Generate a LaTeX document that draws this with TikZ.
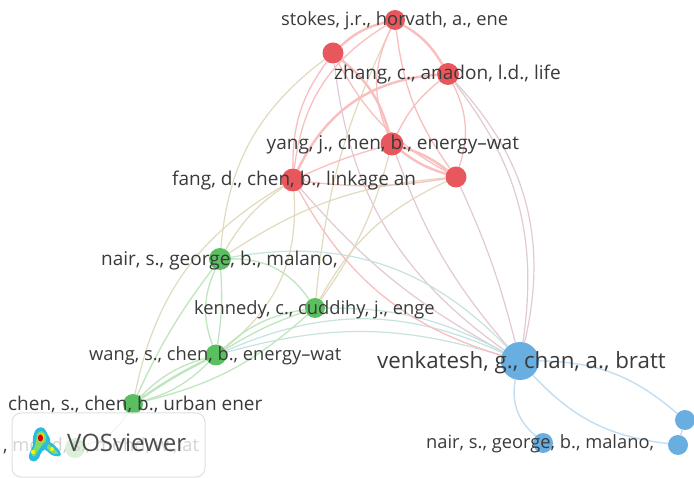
\documentclass[tikz,border=0pt]{standalone}
\usepackage{fontspec}
\setmainfont{Open Sans}
\usetikzlibrary{backgrounds}
\definecolor{nred}{HTML}{E8575C}
\definecolor{ngreen}{HTML}{5ABF5F}
\definecolor{nblue}{HTML}{68AEE0}
\definecolor{ered}{HTML}{F9BEBE}
\definecolor{egreen}{HTML}{BFE6BF}
\definecolor{eblue}{HTML}{C2DEF3}
\definecolor{erg}{HTML}{E2DABF}
\definecolor{erb}{HTML}{E2C9D3}
\definecolor{egb}{HTML}{C4E4E0}
\definecolor{txt}{HTML}{3A3A3A}
\definecolor{hcyan}{HTML}{28BCE0}
\definecolor{hgreen}{HTML}{7FDC6A}
\tikzset{
  ball/.style={circle,inner sep=0pt,minimum size=#1},
  rball/.style={ball=#1,fill=nred},
  gball/.style={ball=#1,fill=ngreen},
  bball/.style={ball=#1,fill=nblue},
  lab/.style={font=\fontsize{19}{21}\selectfont,text=txt,inner sep=0pt,anchor=base west},
  labn/.style={font=\fontsize{18.3}{21}\selectfont,text=txt,inner sep=0pt,anchor=base west},
  labbig/.style={font=\fontsize{22.3}{24}\selectfont,text=txt,inner sep=0pt,anchor=base west},
  re/.style={draw=ered,line width=1.3pt},
  ret/.style={draw=ered,line width=2.4pt},
  ge/.style={draw=egreen,line width=1.3pt},
  get/.style={draw=egreen,line width=2.4pt},
  be/.style={draw=eblue,line width=1.4pt},
  rg/.style={draw=erg,line width=1.2pt},
  rb/.style={draw=erb,line width=1.2pt},
  gb/.style={draw=egb,line width=1.2pt},
  logobox/.style={draw=black!12,fill=white,fill opacity=.78,rounded corners=9pt,line width=1pt,minimum width=193pt,minimum height=64pt,inner sep=0pt},
}
\begin{document}
\begin{tikzpicture}[x=1pt,y=-1pt]
\useasboundingbox (0,0) rectangle (694,478);
% balls
\node[rball=20] (stokes) at (395,20) {};
\node[rball=21] (r2) at (333,53) {};
\node[rball=22] (zhang) at (448,74) {};
\node[rball=23] (yang) at (392,144) {};
\node[rball=21] (r5) at (456,177) {};
\node[rball=23] (fang) at (293,180) {};
\node[gball=22] (nair) at (220,259) {};
\node[gball=20] (kennedy) at (315,308) {};
\node[gball=21] (wang) at (216,355) {};
\node[gball=20] (chen) at (133,404) {};
\node[gball=20] (bot) at (75,448) {};
\node[bball=38] (venk) at (520,361) {};
\node[bball=20] (nairb) at (543,443) {};
\node[bball=20] (bc) at (678,445) {};
\node[bball=20] (bd) at (685,420) {};
\begin{scope}[on background layer]
\fill[white] (0,0) rectangle (694,478);
% red-blue
\draw[rb] (zhang) to[bend left=28] (venk);
\draw[rb] (zhang) to[bend left=23] (venk);
\draw[rb] (r2) to[bend right=24] (venk);
\draw[rb] (yang) to[bend right=10] (venk);
\draw[rb] (r5) to[bend left=5] (venk);
\draw[rb] (fang) to[bend right=10] (venk);
% red-green
\draw[rg] (r2) to[bend right=24] (nair);
\draw[rg] (fang) to[bend right=12] (nair);
\draw[rg] (fang) to[bend right=24] (chen);
\draw[rg] (r5) to[bend right=14] (nair);
\draw[rg] (r5) to[bend right=18] (kennedy);
\draw[rg] (stokes) to[bend right=10] (kennedy);
\draw[rg] (yang) to[bend left=10] (kennedy);
\draw[rg] (fang) to[bend left=28] (wang);
% green-blue
\draw[gb] (nair) to[bend left=28] (venk);
\draw[gb] (kennedy) to[bend left=14] (venk);
\draw[gb] (wang) to[bend left=24] (venk);
\draw[gb] (wang) to[bend left=16] (venk);
% red
\draw[ret] (r2) to[bend left=14] (stokes);
\draw[ret] (stokes) to[bend left=14] (zhang);
\draw[re] (stokes) to[bend right=24] (yang);
\draw[re] (stokes) to[bend right=14] (r5);
\draw[re] (stokes) to[bend right=26] (fang);
\draw[ret] (r2) to[bend left=18] (yang);
\draw[re] (r2) to[bend right=16] (r5);
\draw[re] (r2) to[bend right=18] (fang);
\draw[re] (zhang) to[bend right=12] (yang);
\draw[re] (zhang) to[bend left=22] (r5);
\draw[ret] (zhang) to[bend right=30] (fang);
\draw[ret] (yang) to[bend left=10] (r5);
\draw[ret] (yang) to[bend right=10] (r5);
\draw[re] (yang) to[bend right=4] (fang);
\draw[re] (r5) to[bend left=8] (fang);
\draw[re] (fang) to[bend right=22] (venk);
% green
\draw[ge] (nair) to[bend left=28] (kennedy);
\draw[ge] (nair) to[bend right=22] (wang);
\draw[ge] (nair) to[bend left=6] (wang);
\draw[ge] (nair) to[bend right=6] (chen);
\draw[ge] (kennedy) to[bend right=16] (wang);
\draw[ge] (kennedy) to[bend right=6] (wang);
\draw[ge] (kennedy) to[bend left=14] (chen);
\draw[get] (wang) to[bend right=4] (chen);
\draw[ge] (wang) to[bend right=14] (chen);
\draw[ge] (wang) to[bend left=14] (chen);
\draw[ge] (chen) to[bend left=22] (bot);
% blue
\draw[be] (venk) to[bend right=30] (nairb);
\draw[be] (venk) to[bend right=20] (bc);
\draw[be] (venk) to[bend left=20] (bd);
\draw[be] (bc) -- (bd);
\end{scope}
% labels
\node[labn] (lstokes) at (281,25.5) {stokes, j.r., horvath, a., ene};
\node[lab] (lzhang) at (334,80) {zhang, c., anadon, l.d., life};
\node[lab] (lyang) at (266.5,150) {yang, j., chen, b., energy–wat};
\node[lab] (lfang) at (172,186) {fang, d., chen, b., linkage an};
\node[lab] (lnair) at (101,266) {nair, s., george, b., malano,};
\node[labn] (lkenn) at (194,315) {kennedy, c., cuddihy, j., enge};
\node[labn] (lwang) at (89,361) {wang, s., chen, b., energy–wat};
\node[lab] (lchen) at (8,411) {chen, s., chen, b., urban ener};
\node[labbig] (lvenk) at (377,369) {venkatesh, g., chan, a., bratt};
\node[labn] (lnairb) at (426,449) {nair, s., george, b., malano,};
\node[labn] (lbot) at (3,452) {, mohd, s., mohd, w., at};
% logo
\node[logobox] (logo) at (108.5,445) {};
\fill[hcyan] (35,431) .. controls (38,426) and (44,426) .. (46,431) .. controls (48,436) and (51,438) .. (50,442) .. controls (55,445) and (61,451) .. (61,455) .. controls (58,458) and (51,456) .. (47,451) .. controls (44,447) and (41,452) .. (39,458) .. controls (36,463) and (30,462) .. (29,458) .. controls (28,452) and (34,448) .. (33,442) .. controls (32,438) and (34,434) .. (35,431) -- cycle;
\fill[hgreen] (37,434) .. controls (39,430) and (43,430) .. (45,434) .. controls (47,438) and (47,442) .. (43,444) .. controls (40,448) and (37,452) .. (35,456) .. controls (32,458) and (31,454) .. (33,450) .. controls (36,446) and (36,440) .. (37,434) -- cycle;
\fill[hgreen] (48,444) .. controls (51,446) and (58,451) .. (58,454) .. controls (55,455) and (50,453) .. (47,448) -- cycle;
\fill[yellow!90!orange] (38,436) .. controls (40,432) and (44,433) .. (44,437) .. controls (44,441) and (41,443) .. (39,442) -- cycle;
\fill[yellow] (33,452) circle (2.2);
\fill[yellow] (52,449) circle (2);
\fill[red!85!black] (40.5,438) ellipse (2.6 and 3.6);
\node[lab,font=\fontsize{24}{26}\selectfont,text=black!70] (lvos) at (67,452) {VOSviewer};
\end{tikzpicture}
\end{document}
